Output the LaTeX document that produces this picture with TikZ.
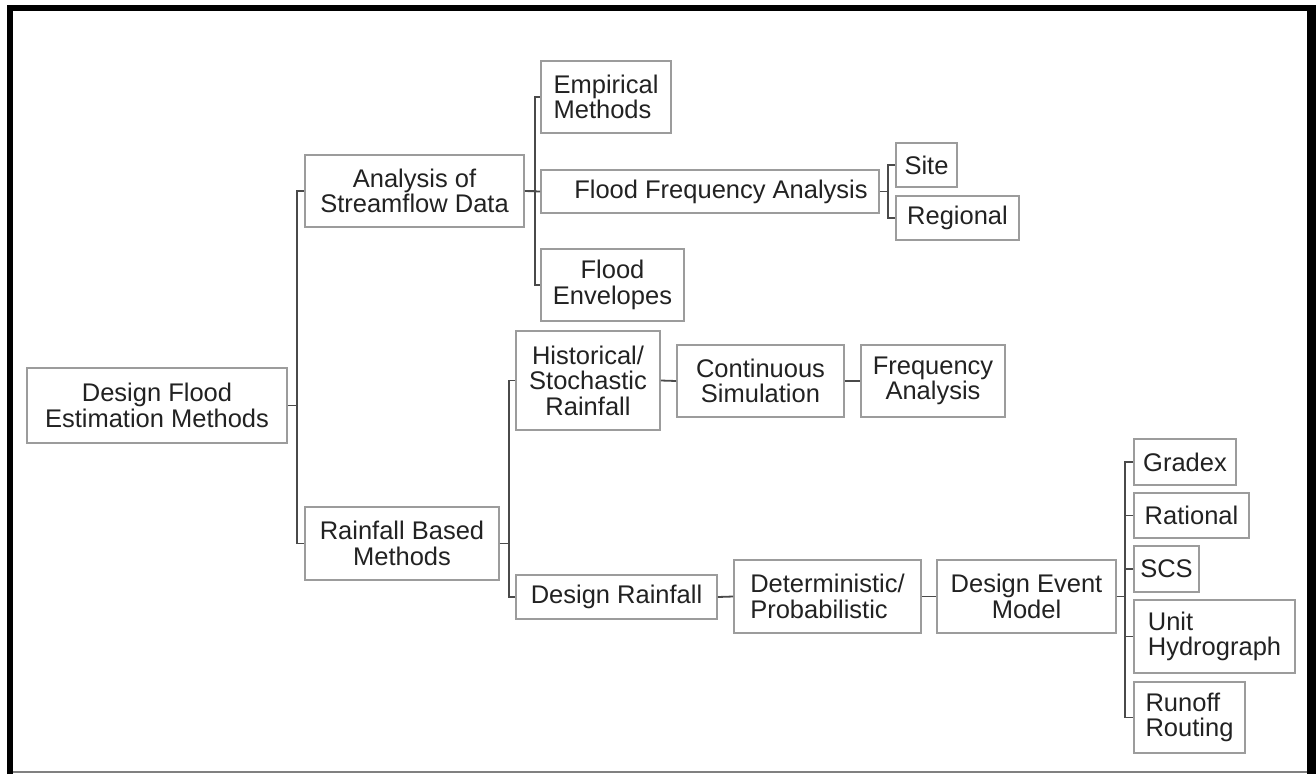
\documentclass[tikz,border=0pt]{standalone}
\usepackage{fontspec}
\setmainfont{Liberation Sans}
\usepackage{tikz}
\definecolor{boxgray}{HTML}{9C9C9C}
\definecolor{linegray}{HTML}{4A4A4A}
\definecolor{inkgray}{HTML}{222222}

\begin{document}
\begin{tikzpicture}[x=1pt, y=-1pt,
		box/.style={draw=boxgray, line width=1.6, inner sep=0, align=center, text=inkgray, font=\fontsize{25.5}{25.5}\selectfont},
		link/.style={draw=linegray, line width=1.8}]
		\useasboundingbox (0,0) rectangle (1316,774);
		\fill[white] (0,0) rectangle (1316,774);
		\draw[line width=6] (10,774) -- (10,8) -- (1311,8);
		\draw[line width=9] (1311.5,5) -- (1311.5,774);
		\draw[gray, line width=1.5] (13,772) -- (1307,772);
		\node[box, minimum width=260, minimum height=75] (root) at (157,405.5) {Design Flood\\Estimation Methods};
		\node[box, minimum width=219, minimum height=72] (ana) at (414.5,191) {Analysis of\\Streamflow Data};
		\node[box, minimum width=194, minimum height=73] (rain) at (402,543.5) {Rainfall Based\\Methods};
		\node[box, minimum width=130, minimum height=72, align=left] (emp) at (606,97) {Empirical\\Methods};
		\node[box, minimum width=338, minimum height=43] (ffa) at (710,191.5) {\hspace{22pt}Flood Frequency Analysis};
		\node[box, minimum width=143, minimum height=72] (env) at (612.5,285) {Flood\\Envelopes};
		\node[box, minimum width=61, minimum height=44] (site) at (926.5,165) {Site};
		\node[box, minimum width=123, minimum height=44] (reg) at (957.5,218) {Regional};
		\node[box, minimum width=144, minimum height=99] (hist) at (588,380.5) {Historical/\\Stochastic\\Rainfall};
		\node[box, minimum width=167, minimum height=72] (cont) at (760.5,381) {Continuous\\Simulation};
		\node[box, minimum width=144, minimum height=72] (freq) at (933,381) {Frequency\\Analysis};
		\node[box, minimum width=201, minimum height=44] (drain) at (616.5,597) {Design Rainfall};
		\node[box, minimum width=187, minimum height=73, align=left] (det) at (827.5,596.5) {Deterministic/\\Probabilistic};
		\node[box, minimum width=179, minimum height=73] (dem) at (1026.5,596.5) {Design Event\\Model};
		\node[box, minimum width=102, minimum height=46] (grad) at (1185,462) {Gradex};
		\node[box, minimum width=115, minimum height=45] (rat) at (1191.5,515.5) {Rational};
		\node[box, minimum width=65, minimum height=46] (scs) at (1166.5,569) {SCS};
		\node[box, minimum width=161, minimum height=73, align=left] (unit) at (1214.5,636.5) {Unit\\Hydrograph};
		\node[box, minimum width=111, minimum height=71, align=left] (run) at (1189.5,717.5) {Runoff\\Routing};
		\draw[link] (root.east) -- ++(9,0) |- (ana.west);
		\draw[link] (root.east) -- ++(9,0) |- (rain.west);
		\draw[link] (ana.east) -- ++(10,0) |- (emp.west);
		\draw[link] (ana.east) -- (ffa.west);
		\draw[link] (ana.east) -- ++(10,0) |- (env.west);
		\draw[link] (ffa.east) -- ++(8,0) |- (site.west);
		\draw[link] (ffa.east) -- ++(8,0) |- (reg.west);
		\draw[link] (rain.east) -- ++(9,0) |- (hist.west);
		\draw[link] (rain.east) -- ++(9,0) |- (drain.west);
		\draw[link] (hist.east) -- (cont.west);
		\draw[link] (cont.east) -- (freq.west);
		\draw[link] (drain.east) -- (det.west);
		\draw[link] (det.east) -- (dem.west);
		\foreach \leaf in {grad, rat, scs, unit, run}
			\draw[link] (dem.east) -- ++(8,0) |- (\leaf.west);
	\end{tikzpicture}
\end{document}
